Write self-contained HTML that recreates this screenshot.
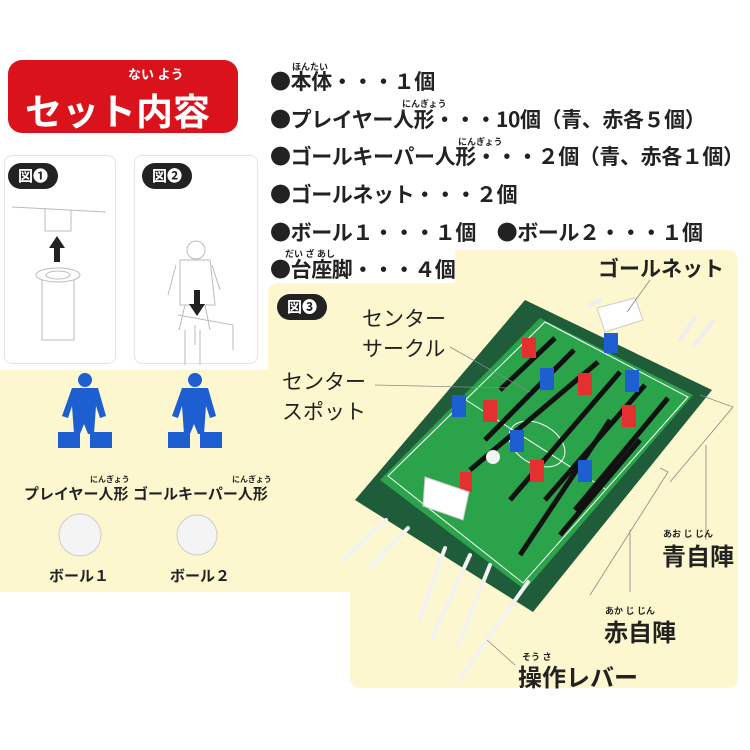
<!DOCTYPE html>
<html><head><meta charset="utf-8"><style>
body{margin:0;width:750px;height:750px;background:#fff;position:relative;overflow:hidden;font-family:"Liberation Sans","Noto Sans CJK JP",sans-serif;color:#222}
.a{position:absolute;white-space:nowrap}
.y{position:absolute;background:#fdf7cf}
.li{position:absolute;left:270px;font-size:21px;letter-spacing:-0.4px;font-weight:bold;color:#222;white-space:nowrap;font-family:"Noto Sans CJK JP",sans-serif}
.rb{position:absolute;font-size:9px;font-weight:bold;white-space:nowrap}
.pill{position:absolute;background:#222;color:#fff;border-radius:14px;font-size:15px;font-weight:bold;padding:0 10px;height:26px;line-height:28px}
.box{position:absolute;border:1px solid #e4e4e4;border-radius:8px;background:#fff}
.lb{position:absolute;font-size:21px;font-weight:bold;color:#222;white-space:nowrap}
</style></head><body>
<div class="y" style="left:268px;top:283px;width:470px;height:100px;border-radius:10px 0 0 0"></div>
<div class="y" style="left:455px;top:250px;width:283px;height:60px;border-radius:0 10px 0 0"></div>
<div class="y" style="left:0;top:370px;width:738px;height:222px"></div>
<div class="y" style="left:350px;top:560px;width:388px;height:128px;border-radius:0 0 10px 10px"></div>

<div class="a" style="left:8px;top:60px;width:230px;height:73px;background:#d9121b;border-radius:14px"></div>
<div class="a" style="left:128px;top:64px;color:#fff;font-size:13px;font-weight:bold">ない よう</div>
<div class="a" style="left:25px;top:82px;color:#fff;font-size:37px;font-weight:bold">セット内容</div>

<div class="rb" style="left:292px;top:60px">ほんたい</div>
<div class="li" style="top:66px">●本体・・・１個</div>
<div class="rb" style="left:402px;top:97px">にんぎょう</div>
<div class="li" style="top:104px">●プレイヤー人形・・・10個（青、赤各５個）</div>
<div class="rb" style="left:458px;top:135px">にんぎょう</div>
<div class="li" style="top:141px">●ゴールキーパー人形・・・２個（青、赤各１個）</div>
<div class="li" style="top:179px">●ゴールネット・・・２個</div>
<div class="li" style="top:217px">●ボール１・・・１個　●ボール２・・・１個</div>
<div class="rb" style="left:285px;top:247px">だい ざ あし</div>
<div class="li" style="top:254px">●台座脚・・・４個</div>

<div class="box" style="left:4px;top:155px;width:110px;height:207px"></div>
<div class="box" style="left:134px;top:155px;width:122px;height:207px"></div>
<div class="pill" style="left:8px;top:163px">図❶</div>
<div class="pill" style="left:142px;top:163px">図❷</div>
<svg class="a" style="left:0;top:150px" width="260" height="215">
<g fill="none" stroke="#bbb" stroke-width="1">
<line x1="12" y1="57" x2="106" y2="62"/><path d="M45 59v22h26v-21"/>
<ellipse cx="58" cy="125" rx="22" ry="7"/><ellipse cx="58" cy="125" rx="12" ry="4"/><path d="M42 130v60h32v-60"/>
<circle cx="196" cy="100" r="9"/><path d="M180 110 l30 0 l5 45 l-35 0z M176 115 l-8 30 M212 115l8 25 M185 155 l-6 25 M205 155 l5 25 M178 165 l55 10 l0 25 M195 175 l0 20"/>
<path d="M152 223 l100 5 M152 232 l100 5 M185 180 l0 35 M200 180 l0 35"/>
</g>
<path d="M57 86l-8 12h5v14h6v-14h5z" fill="#222"/>
<path d="M197 166l-8 -12h5v-14h6v14h5z" fill="#222"/>
</svg>

<svg class="a" style="left:0;top:370px" width="260" height="200">
<g fill="#1d5fd0">
<circle cx="85" cy="10" r="7"/><path d="M72 18h26l8 28-6 2-4-12-2 28h-6l-4-10-4 10h-6l-2-28-4 12-6-2z"/>
<circle cx="195" cy="10" r="7"/><path d="M182 18h26l8 28-6 2-4-12-2 28h-6l-4-10-4 10h-6l-2-28-4 12-6-2z"/>
<path d="M58 62h22v16h-22zM90 62h22v16h-22z"/><path d="M168 62h22v16h-22zM200 62h22v16h-22z"/>
</g>
<circle cx="80" cy="165" r="21" fill="#f4f4f4" stroke="#ccc"/>
<circle cx="197" cy="165" r="20" fill="#f4f4f4" stroke="#ccc"/>
</svg>
<div class="rb" style="left:90px;top:474px;font-size:8px">にんぎょう</div>
<div class="a" style="left:24px;top:483px;font-size:15px;font-weight:bold">プレイヤー人形</div>
<div class="rb" style="left:232px;top:474px;font-size:8px">にんぎょう</div>
<div class="a" style="left:133px;top:483px;font-size:15px;font-weight:bold">ゴールキーパー人形</div>
<div class="a" style="left:49px;top:565px;font-size:15px;font-weight:bold">ボール１</div>
<div class="a" style="left:170px;top:565px;font-size:15px;font-weight:bold">ボール２</div>

<div class="pill" style="left:277px;top:294px">図❸</div>
<svg class="a" style="left:0;top:0" width="750" height="750">
<g stroke="#eee" stroke-width="4" stroke-linecap="round">
<line x1="590" y1="305" x2="600" y2="300"/><line x1="680" y1="340" x2="695" y2="318"/><line x1="695" y1="345" x2="712" y2="322"/>
</g>
<polygon points="525,300 712,390 533,612 355,500" fill="#1f5c3a"/>
<polygon points="540,318 693,395 525,590 380,480" fill="#2aa34a"/>
<g stroke="#fff" stroke-width="1" fill="none">
<polygon points="545,322 688,397 523,583 388,476"/>
<line x1="466" y1="400" x2="605" y2="489"/>
<ellipse cx="537" cy="444" rx="30" ry="20" transform="rotate(30 537 444)"/>
</g>
<g stroke="#111" stroke-width="5">
<line x1="555" y1="338" x2="500" y2="390"/><line x1="574" y1="350" x2="485" y2="440"/><line x1="598" y1="362" x2="470" y2="470"/>
<line x1="620" y1="372" x2="510" y2="500"/><line x1="645" y1="385" x2="545" y2="500"/><line x1="668" y1="398" x2="575" y2="510"/>
<line x1="610" y1="420" x2="520" y2="555"/><line x1="640" y1="440" x2="560" y2="535"/>
</g>
<g fill="#e53030">
<rect x="522" y="338" width="14" height="20"/><rect x="483" y="400" width="14" height="22"/><rect x="578" y="373" width="14" height="22"/>
<rect x="622" y="405" width="14" height="22"/><rect x="530" y="460" width="14" height="22"/><rect x="460" y="472" width="12" height="20"/>
</g>
<g fill="#1d5fd0">
<rect x="540" y="368" width="14" height="22"/><rect x="452" y="395" width="14" height="22"/><rect x="625" y="370" width="14" height="22"/>
<rect x="510" y="430" width="14" height="22"/><rect x="578" y="460" width="14" height="22"/><rect x="604" y="333" width="14" height="20"/>
</g>
<circle cx="493" cy="457" r="7" fill="#f4f4f4"/>
<g fill="#fff" stroke="#ccc"><path d="M597 308l38-10 8 22-38 12z"/><path d="M425 477l44 15-6 28-40-14z"/></g>
<g stroke="#f2f2f2" stroke-width="4" stroke-linecap="round">
<line x1="386" y1="520" x2="343" y2="560"/><line x1="408" y1="528" x2="370" y2="568"/><line x1="445" y1="548" x2="420" y2="618"/>
<line x1="470" y1="555" x2="432" y2="638"/><line x1="490" y1="565" x2="458" y2="645"/><line x1="528" y1="582" x2="460" y2="678"/>
</g>
<g stroke="#888" stroke-width="0.8" fill="none">
<line x1="650" y1="280" x2="627" y2="312"/><line x1="450" y1="347" x2="530" y2="392"/><line x1="375" y1="385" x2="510" y2="388"/>
<polyline points="700,395 733,407 670,482"/><line x1="706" y1="445" x2="706" y2="540"/>
<polyline points="660,468 668,472 590,595"/><line x1="630" y1="530" x2="630" y2="592"/>
<line x1="487" y1="640" x2="515" y2="665"/>
</g>
</svg>
<div class="lb" style="left:598px;top:253px">ゴールネット</div>
<div class="lb" style="left:362px;top:303px;font-weight:normal">センター<br>サークル</div>
<div class="lb" style="left:282px;top:366px;font-weight:normal">センター<br>スポット</div>
<div class="rb" style="left:663px;top:527px">あお じ じん</div>
<div class="lb" style="left:662px;top:537px;font-size:24px">青自陣</div>
<div class="rb" style="left:605px;top:604px">あか じ じん</div>
<div class="lb" style="left:604px;top:613px;font-size:24px">赤自陣</div>
<div class="rb" style="left:522px;top:650px">そう さ</div>
<div class="lb" style="left:518px;top:658px;font-size:24px">操作レバー</div>
</body></html>
